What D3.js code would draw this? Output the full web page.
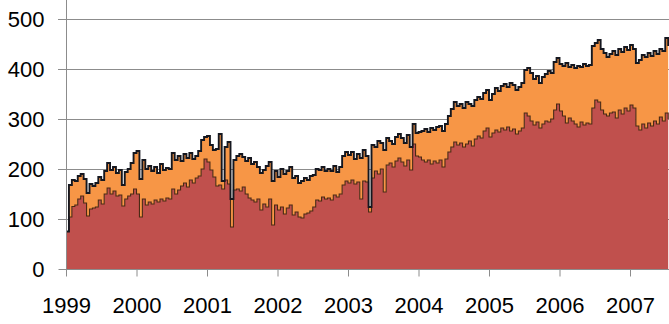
<!DOCTYPE html>
<html>
<head>
<meta charset="utf-8">
<script src="https://cdn.jsdelivr.net/npm/d3@7"></script>
<style>
  html, body { margin: 0; padding: 0; background: #fff; }
  svg { display: block; }
</style>
</head>
<body>
<svg id="chart"></svg>
<script>
var width = 669;
var height = 324;

// semi-monthly values, 24 per year, starting Jan 1999
var start_year = 1999;
var steps_per_year = 24;

var red_values = [
  75,104,125,128,140,146,132,106,120,122,124,138,130,150,162,150,156,146,148,126,140,146,150,160,
  150,104,140,128,134,130,138,134,140,136,142,140,160,150,158,166,172,164,178,172,182,186,200,220,
  214,198,184,166,168,160,178,170,84,158,160,156,164,150,142,138,134,140,118,130,124,140,88,128,
  118,124,110,122,128,108,114,104,102,110,112,116,124,138,136,144,140,142,138,148,144,150,168,176,
  172,178,170,174,140,176,174,114,182,196,190,200,154,208,212,204,216,222,214,206,218,198,250,226,
  224,218,214,218,210,216,212,218,204,220,234,244,254,248,252,244,250,256,246,260,266,262,276,282,
  264,272,278,274,282,278,284,276,280,270,276,282,312,306,296,288,294,282,290,296,294,300,318,330,
  316,306,292,302,296,290,284,294,288,292,290,322,338,334,318,310,306,312,314,302,318,310,322,316,
  328,322,286,278,290,282,292,286,296,290,304,296,312,300
];

var orange_values = [
  0,64,53,48,46,44,48,46,50,44,48,46,48,46,50,48,48,46,50,42,54,54,62,72,
  86,76,78,72,72,66,66,58,70,62,60,60,72,68,68,50,58,58,54,48,44,50,58,44,
  52,50,54,74,102,16,66,84,56,60,66,74,60,66,80,72,80,64,74,68,82,74,88,68,
  66,76,80,74,76,74,72,68,74,72,66,70,64,62,62,60,56,58,58,58,50,54,58,58,
  56,56,50,56,82,62,52,10,66,48,66,52,84,54,44,46,48,48,48,46,50,46,40,46,
  50,58,66,56,72,62,72,68,72,70,72,76,80,78,78,78,84,74,80,78,78,78,76,76,
  74,78,84,82,84,92,80,96,88,88,88,90,86,96,96,92,92,90,94,94,102,92,96,92,
  94,100,120,102,112,112,122,110,122,114,118,124,114,124,122,122,118,118,122,126,122,124,122,122,
  120,118,126,140,138,142,140,140,140,140,136,140,150,146
];

var y_ticks = [0, 100, 200, 300, 400, 500];
var x_ticks = [1999, 2000, 2001, 2002, 2003, 2004, 2005, 2006, 2007];

var series_keys = ["red", "orange"];
var series_colors = {red: "#c0504d", orange: "#f79646"};

var plot_left = 66;
var plot_right = 669;
var plot_top = 19;
var plot_bottom = 269;

var rows = red_values.map(function(v, i) {
    return {t: start_year + i / steps_per_year, red: v, orange: orange_values[i]};
});

var x = d3.scaleLinear()
    .domain([1999, 2007.553])
    .range([plot_left, plot_right]);

var y = d3.scaleLinear()
    .domain([0, 500])
    .range([plot_bottom, plot_top]);

var svg = d3.select("#chart")
    .attr("width", width)
    .attr("height", height)
    .attr("font-family", "'Liberation Sans', Arial, sans-serif");

// gridlines
svg.append("g")
    .selectAll("line")
    .data(y_ticks.filter(function(d) { return d > 0; }))
    .enter()
    .append("line")
    .attr("x1", plot_left - 8)
    .attr("x2", plot_right)
    .attr("y1", function(d) { return y(d) + 0.5; })
    .attr("y2", function(d) { return y(d) + 0.5; })
    .attr("stroke", "#8c8c8c")
    .attr("stroke-width", 1);

var stacked = d3.stack().keys(series_keys)(rows);

var area = d3.area()
    .curve(d3.curveStepAfter)
    .x(function(d) { return x(d.data.t); })
    .y0(function(d) { return y(d[0]); })
    .y1(function(d) { return y(d[1]); });

var top_line = d3.line()
    .curve(d3.curveStepAfter)
    .x(function(d) { return x(d.data.t); })
    .y(function(d) { return y(d[1]); });

svg.append("clipPath")
    .attr("id", "plot_clip")
    .append("rect")
    .attr("x", plot_left)
    .attr("y", 0)
    .attr("width", plot_right - plot_left)
    .attr("height", plot_bottom);

var plot = svg.append("g").attr("clip-path", "url(#plot_clip)");

plot.selectAll(".layer")
    .data(stacked)
    .enter()
    .append("path")
    .attr("class", "layer")
    .attr("d", area)
    .attr("fill", function(d) { return series_colors[d.key]; });

plot.selectAll(".edge")
    .data(stacked)
    .enter()
    .append("path")
    .attr("class", "edge")
    .attr("d", top_line)
    .attr("fill", "none")
    .attr("stroke", function(d) { return d.key == "red" ? "#4a2a14" : "#15171f"; })
    .attr("stroke-width", function(d) { return d.key == "red" ? 1.1 : 1.9; })
    .attr("stroke-linejoin", "miter");

// axes
var y_axis = svg.append("g")
    .attr("transform", "translate(" + (plot_left + 0.5) + ",0)")
    .call(d3.axisLeft(y).tickValues(y_ticks).tickSize(8).tickPadding(14));

var x_axis = svg.append("g")
    .attr("transform", "translate(0," + (plot_bottom + 0.5) + ")")
    .call(d3.axisBottom(x).tickValues(x_ticks).tickSize(7).tickPadding(21).tickFormat(d3.format("d")));

y_axis.select(".domain").attr("d", "M0,0V" + (plot_bottom + 7));
x_axis.select(".domain").attr("d", "M" + plot_left + ",0H" + plot_right);

[y_axis, x_axis].forEach(function(g) {
    g.selectAll(".domain").attr("stroke", "#8c8c8c").attr("stroke-width", 1);
    g.selectAll(".tick line").attr("stroke", "#8c8c8c");
    g.selectAll(".tick text")
        .attr("fill", "#000")
        .attr("font-size", 22)
        .attr("font-family", "'Liberation Sans', Arial, sans-serif");
});

y_axis.selectAll(".tick text").attr("x", -22).attr("dy", "0.36em");
x_axis.selectAll(".tick text").attr("dy", "0.71em");
</script>
</body>
</html>
